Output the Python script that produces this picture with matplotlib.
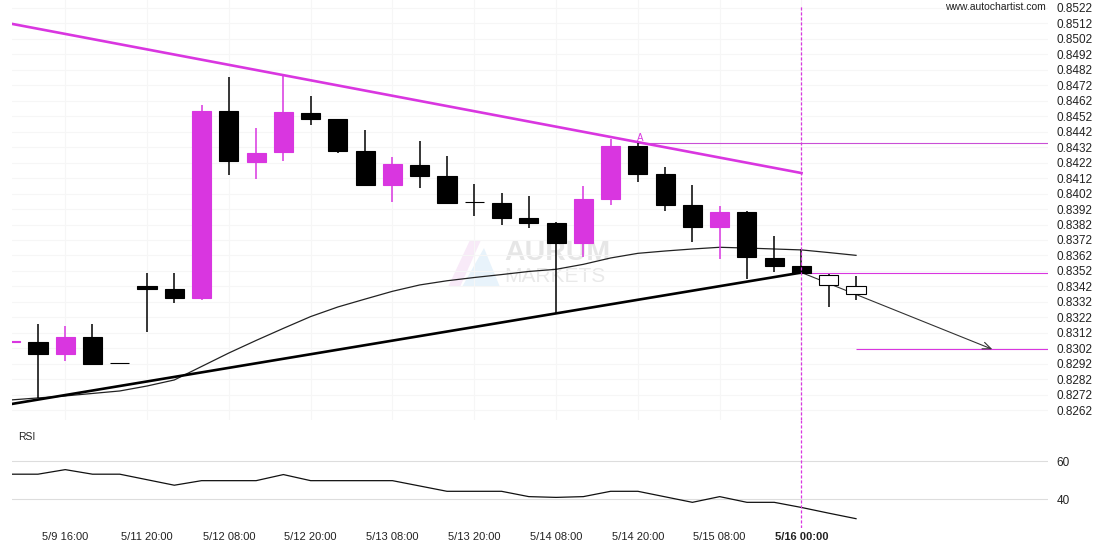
import numpy as np
import matplotlib.pyplot as plt
from matplotlib.patches import Polygon

plt.rcParams['font.family'] = ['Liberation Sans', 'DejaVu Sans']

MAGENTA = '#d936e0'

# 4h candles, index 0 is cut by the left edge
opens = [0.83062, 0.83062, 0.82986, 0.83094, 0.82926, 0.83423, 0.83404, 0.83348,
         0.84552, 0.84225, 0.84290, 0.84537, 0.84499, 0.84294, 0.84075, 0.84202,
         0.84133, 0.83963, 0.83959, 0.83862, 0.83828, 0.83703, 0.83986, 0.84326,
         0.84146, 0.83946, 0.83806, 0.83901, 0.83602, 0.83552]
highs = [0.83072, 0.83178, 0.83165, 0.83178, 0.82929, 0.83507, 0.83507, 0.84591,
         0.84772, 0.84441, 0.84778, 0.84649, 0.84503, 0.84428, 0.84254, 0.84359,
         0.84264, 0.84079, 0.84021, 0.84004, 0.83834, 0.84068, 0.84372, 0.84344,
         0.84189, 0.84073, 0.83937, 0.83909, 0.83746, 0.83662]
lows = [0.83059, 0.82701, 0.82939, 0.82920, 0.82923, 0.83126, 0.83314, 0.83333,
        0.84139, 0.84114, 0.84230, 0.84460, 0.84283, 0.84070, 0.83963, 0.84054,
        0.83950, 0.83875, 0.83817, 0.83795, 0.83247, 0.83610, 0.83944, 0.84092,
        0.83905, 0.83705, 0.83597, 0.83466, 0.83512, 0.83501]
closes = [0.83068, 0.82986, 0.83094, 0.82922, 0.82926, 0.83406, 0.83348, 0.84552,
          0.84230, 0.84279, 0.84544, 0.84503, 0.84296, 0.84075, 0.84208, 0.84133,
          0.83961, 0.83963, 0.83864, 0.83830, 0.83703, 0.83985, 0.84326, 0.84148,
          0.83948, 0.83806, 0.83901, 0.83608, 0.83554, 0.83505]

# projected candles after the breakout
fc_opens = [0.83492, 0.83421]
fc_highs = [0.83499, 0.83488]
fc_lows = [0.83288, 0.83333]
fc_closes = [0.83428, 0.83370]

ma_values = [0.82688, 0.82701, 0.82714, 0.82730, 0.82746, 0.82778, 0.82817, 0.82904,
             0.82991, 0.83072, 0.83150, 0.83226, 0.83288, 0.83339, 0.83389, 0.83430,
             0.83457, 0.83478, 0.83497, 0.83517, 0.83531, 0.83563, 0.83604, 0.83634,
             0.83649, 0.83662, 0.83673, 0.83668, 0.83662, 0.83656, 0.83639, 0.83621]

rsi_values = [53.2, 53.2, 55.6, 53.2, 53.2, 50.3, 47.4, 49.8, 49.8, 49.8, 53.0,
              49.8, 49.8, 49.8, 49.8, 47.0, 44.2, 44.2, 44.2, 41.4, 41.0, 41.4,
              44.2, 44.2, 41.3, 38.4, 41.4, 38.4, 38.4, 35.7, 32.7, 29.8]

tick_index = [2, 5, 8, 11, 14, 17, 20, 23, 26, 29]
tick_labels = ['5/9 16:00', '5/11 20:00', '5/12 08:00', '5/12 20:00', '5/13 08:00',
               '5/13 20:00', '5/14 08:00', '5/14 20:00', '5/15 08:00', '5/16 00:00']

upper_trend_x = [0, 29]
upper_trend_y = [0.85116, 0.84152]
lower_trend_x = [0, 29]
lower_trend_y = [0.82661, 0.83510]

resistance_start, resistance_level = 23, 0.84346
break_index, break_level = 29, 0.83510
target_start, target_level = 31, 0.83015
arrow_end = 36

price_ticks = np.round(np.arange(0.8262, 0.85225, 0.001), 4)

W, H = 1110, 550
fig = plt.figure(figsize=(W / 100, H / 100), dpi=100)
ax = fig.add_axes([12 / W, 1 - 420 / H, 1036 / W, 420 / H])
rsi_ax = fig.add_axes([12 / W, 1 - 528 / H, 1036 / W, 108 / H])

xlim = (0.048, 38.04)

# --- price panel ---
x = np.arange(len(opens))
for i in x:
    up = closes[i] > opens[i]
    col = MAGENTA if up else 'black'
    ax.vlines(i, lows[i], highs[i], color=col, lw=1.1, zorder=3)
    ax.bar(i, closes[i] - opens[i], bottom=opens[i], width=0.7, color=col,
           edgecolor=col, lw=0.8, zorder=4)

fx = np.arange(len(opens), len(opens) + len(fc_opens))
for j, i in enumerate(fx):
    ax.vlines(i, fc_lows[j], fc_highs[j], color='black', lw=1.1, zorder=3)
    ax.bar(i, fc_closes[j] - fc_opens[j], bottom=fc_opens[j], width=0.7,
           color='white', edgecolor='black', lw=0.8, zorder=4)

ax.plot(np.arange(len(ma_values)), ma_values, color='#222222', lw=0.9, zorder=2)
ax.plot(upper_trend_x, upper_trend_y, color=MAGENTA, lw=1.9, zorder=2.5)
ax.plot(lower_trend_x, lower_trend_y, color='black', lw=1.9, zorder=2.5)

ax.hlines(resistance_level, resistance_start, xlim[1], color='#c94fd6', lw=0.8, zorder=2)
ax.text(resistance_start + 0.1, resistance_level, 'A', color=MAGENTA, fontsize=7,
        ha='center', va='bottom')
ax.hlines(break_level, break_index, xlim[1], color=MAGENTA, lw=0.8, zorder=2)
ax.hlines(target_level, target_start, xlim[1], color=MAGENTA, lw=0.8, zorder=2)
ax.annotate('', xy=(arrow_end, target_level), xytext=(break_index, break_level),
            arrowprops=dict(arrowstyle='->,head_length=0.6,head_width=0.25',
                            color='#333333', lw=0.8, shrinkA=0, shrinkB=0), zorder=3)
ax.axvline(break_index, ymax=1 - 5 / 420, color=MAGENTA, lw=0.9,
           ls=(0, (2.5, 1.5)), zorder=5)

# watermark
def frac(px, py):
    return (px - 12) / 1036, 1 - py / 420

ax.add_patch(Polygon([frac(448, 287), frac(470, 240), frac(481, 240), frac(460, 287)],
                     closed=True, transform=ax.transAxes, color='#f8eaf8', lw=0, zorder=0.5))
ax.add_patch(Polygon([frac(462, 287), frac(484, 248), frac(500, 287)],
                     closed=True, transform=ax.transAxes, color='#e8f3fb', lw=0, zorder=0.4))
ax.text(*frac(504, 253), 'AURUM', transform=ax.transAxes, fontsize=20.5,
        color='#e6e6e6', va='center', ha='left', zorder=0.5, fontweight='bold')
ax.text(*frac(504, 276), 'MARKETS', transform=ax.transAxes, fontsize=15,
        color='#e9e9e9', va='center', ha='left', zorder=0.5)

ax.set_xlim(xlim)
ax.set_ylim(0.825587, 0.852684)
ax.set_yticks(price_ticks)
ax.set_yticklabels([f'{p:.4f}' for p in price_ticks])
ax.yaxis.tick_right()
ax.set_xticks(tick_index)
ax.set_xticklabels([])
ax.tick_params(axis='both', length=0)
ax.tick_params(axis='y', pad=6, labelsize=8.5, labelcolor='#222222')
ax.grid(True, color='#f6f6f6', lw=0.8)
ax.set_axisbelow(True)
for s in ax.spines.values():
    s.set_visible(False)

# --- RSI panel ---
rsi_ax.plot(np.arange(len(rsi_values)), rsi_values, color='#111111', lw=0.9)
rsi_ax.axvline(break_index, color=MAGENTA, lw=0.9, ls=(0, (2.5, 1.5)))
rsi_ax.set_xlim(xlim)
rsi_ax.set_ylim(24.9, 81.7)
rsi_ax.set_yticks([40, 60])
rsi_ax.yaxis.tick_right()
rsi_ax.set_xticks(tick_index)
rsi_ax.set_xticklabels(tick_labels)
rsi_ax.get_xticklabels()[-1].set_fontweight('bold')
rsi_ax.tick_params(axis='both', length=0)
rsi_ax.tick_params(axis='x', pad=3, labelsize=8, labelcolor='#222222')
rsi_ax.tick_params(axis='y', pad=6, labelsize=8.5, labelcolor='#222222')
rsi_ax.grid(True, axis='y', color='#dddddd', lw=0.8)
rsi_ax.set_axisbelow(True)
for s in rsi_ax.spines.values():
    s.set_visible(False)
rsi_ax.text(6 / 1036, 1 - 17 / 108, 'RSI', transform=rsi_ax.transAxes,
            fontsize=7.5, va='center', ha='left', color='#222222')

fig.text(1046 / W, 1 - 7 / H, 'www.autochartist.com', fontsize=7.5,
         ha='right', va='center', color='#222222')

fig.savefig('out.png', dpi=100)
